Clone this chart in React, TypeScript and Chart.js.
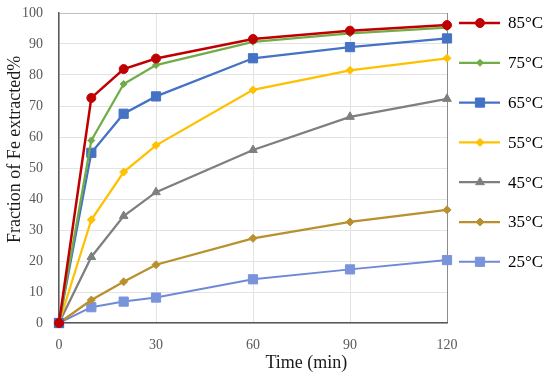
import React, { useEffect, useRef } from 'react';
import { Chart, registerables } from 'chart.js';
import { drawPoint } from 'chart.js/helpers';

Chart.register(...registerables);

const times = [0, 10, 20, 30, 60, 90, 120];
const s85 = [0, 72.6, 81.9, 85.3, 91.6, 94.3, 96.1];
const s75 = [0, 58.9, 77.1, 83.2, 90.7, 93.4, 95.3];
const s65 = [0, 54.9, 67.5, 73.1, 85.4, 89.0, 91.8];
const s55 = [0, 33.3, 48.7, 57.3, 75.2, 81.5, 85.4];
const s45 = [0, 21.3, 34.5, 42.2, 55.8, 66.5, 72.3];
const s35 = [0, 7.4, 13.3, 18.8, 27.3, 32.6, 36.5];
const s25 = [0, 5.1, 6.9, 8.2, 14.1, 17.3, 20.3];
const seriesLabels = ['85°C', '75°C', '65°C', '55°C', '45°C', '35°C', '25°C'];
const xTitle = 'Time (min)';
const yTitle = 'Fraction of Fe extracted%';

const FONT = '"Liberation Serif", "Times New Roman", serif';

const legendPlugin = {
  id: 'sideLegend',
  afterDraw(chart: any) {
    const ctx = chart.ctx;
    const area = chart.chartArea;
    const x0 = area.right + 12;
    const top = area.top + 10;
    chart.data.datasets.forEach((ds: any, i: number) => {
      const y = top + i * 39.8;
      ctx.save();
      ctx.strokeStyle = ds.borderColor;
      ctx.lineWidth = ds.borderWidth;
      ctx.beginPath();
      ctx.moveTo(x0, y);
      ctx.lineTo(x0 + 41, y);
      ctx.stroke();
      ctx.fillStyle = ds.pointBackgroundColor;
      ctx.strokeStyle = ds.pointBorderColor;
      ctx.lineWidth = 1;
      drawPoint(ctx, { pointStyle: ds.pointStyle, rotation: 0, radius: ds.pointRadius, borderWidth: 1 } as any, x0 + 21, y);
      ctx.fillStyle = '#000000';
      ctx.font = `17px ${FONT}`;
      ctx.textBaseline = 'middle';
      ctx.textAlign = 'left';
      ctx.fillText(seriesLabels[i], x0 + 49, y + 1);
      ctx.restore();
    });
    // axis titles
    ctx.save();
    ctx.fillStyle = '#1a1a1a';
    ctx.font = `18px ${FONT}`;
    ctx.textAlign = 'center';
    ctx.textBaseline = 'middle';
    const xs = chart.scales.x;
    ctx.fillText(xTitle, xs.getPixelForValue(76.5), area.bottom + 40);
    ctx.translate(15, chart.scales.y.getPixelForValue(56));
    ctx.rotate(-Math.PI / 2);
    ctx.fillText(yTitle, 0, 0);
    ctx.restore();
  },
};

function mk(label: string, data: number[], color: string, pointColor: string, style: string, radius: number, width: number) {
  return {
    label,
    data: data.map((v, i) => ({ x: times[i], y: v })),
    borderColor: color,
    backgroundColor: color,
    pointBackgroundColor: pointColor,
    pointBorderColor: pointColor,
    pointBorderWidth: 1,
    pointStyle: style,
    pointRadius: radius,
    borderWidth: width,
    tension: 0,
    clip: false as any,
  };
}

export default function App() {
  const ref = useRef<HTMLCanvasElement | null>(null);
  useEffect(() => {
    if (!ref.current) return;
    const chart = new Chart(ref.current, {
      type: 'line',
      data: {
        datasets: [
          mk(seriesLabels[0], s85, '#C00000', '#C00000', 'circle', 4.5, 2.5),
          mk(seriesLabels[1], s75, '#70AD47', '#70AD47', 'rectRot', 3.5, 2.25),
          mk(seriesLabels[2], s65, '#4472C4', '#4472C4', 'rect', 6.5, 2.25),
          mk(seriesLabels[3], s55, '#FFC000', '#FFC000', 'rectRot', 4, 2.25),
          mk(seriesLabels[4], s45, '#7F7F7F', '#7F7F7F', 'triangle', 5, 2.25),
          mk(seriesLabels[5], s35, '#B8902E', '#B8902E', 'rectRot', 4, 2.25),
          mk(seriesLabels[6], s25, '#7089D6', '#7A94DC', 'rect', 6.5, 2),
        ] as any,
      },
      options: {
        responsive: false,
        animation: false,
        layout: { padding: { top: 13, right: 103, left: 0, bottom: 0 } },
        plugins: { legend: { display: false }, tooltip: { enabled: false } },
        scales: {
          x: {
            type: 'linear',
            min: 0,
            max: 120,
            ticks: { stepSize: 30, color: '#595959', font: { family: FONT, size: 14 }, padding: 14 },
            grid: {
              drawTicks: false,
              color: (c: any) => (c.tick && c.tick.value === 120 ? '#8C8C8C' : '#E3E3E3'),
            },
            border: { color: '#595959', width: 1.5 },
            title: { display: false },
            afterFit: (s: any) => { s.height = 59; s.paddingLeft = 0; s.paddingRight = 0; },
          },
          y: {
            min: 0,
            max: 100,
            ticks: { stepSize: 10, color: '#595959', font: { family: FONT, size: 14 }, padding: 16 },
            grid: {
              drawTicks: false,
              color: (c: any) => (c.tick && c.tick.value === 100 ? '#BFBFBF' : '#E3E3E3'),
            },
            border: { color: '#595959', width: 1.5 },
            title: { display: false },
            afterFit: (s: any) => { s.width = 59; s.paddingTop = 0; s.paddingBottom = 0; },
          },
        },
      } as any,
      plugins: [legendPlugin],
    });
    return () => chart.destroy();
  }, []);
  return (
    <div style={{ position: 'absolute', left: 0, top: 0, width: 550, height: 382, background: '#fff' }}>
      <canvas ref={ref} width={550} height={382} style={{ display: 'block' }} />
    </div>
  );
}
